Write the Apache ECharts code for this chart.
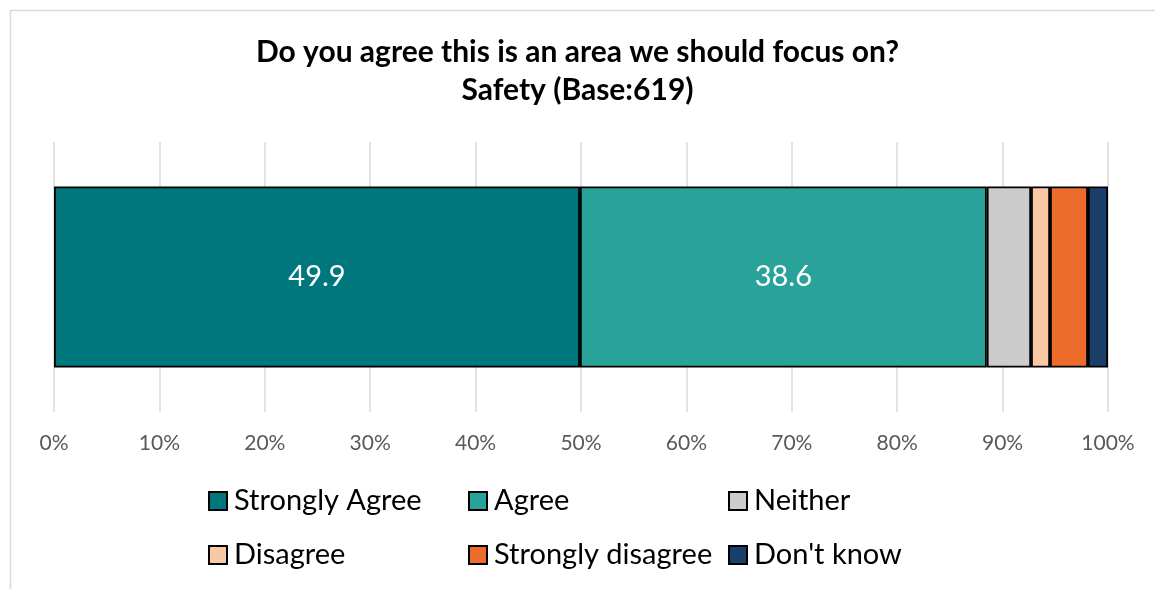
<!DOCTYPE html>
<html>
<head>
<meta charset="utf-8">
<script src="https://cdn.jsdelivr.net/npm/echarts@6/dist/echarts.min.js"></script>
<style>
  html, body { margin: 0; padding: 0; background: #fff; }
  #main { width: 1155px; height: 589px; }
</style>
</head>
<body>
<div id="main"></div>
<script>
// data
var categories = ['Safety'];
var seriesNames = ['Strongly Agree', 'Agree', 'Neither', 'Disagree', 'Strongly disagree', "Don't know"];
var stronglyAgree = [49.9];
var agree = [38.6];
var neither = [4.2];
var disagree = [1.8];
var stronglyDisagree = [3.6];
var dontKnow = [1.9];
var showValue = [true, true, false, false, false, false];
var colors = ['#00777D', '#29A399', '#CCCCCC', '#F9C9A6', '#EC6C2B', '#1B3F6B'];

var font = 'Lato';
var allValues = [stronglyAgree, agree, neither, disagree, stronglyDisagree, dontKnow];

window.onload = function () {
  var myChart = echarts.init(document.getElementById('main'));

  var series = seriesNames.map(function (name, i) {
    return {
      name: name,
      type: 'bar',
      stack: 'total',
      data: allValues[i],
      barWidth: 181,
      itemStyle: {
        color: colors[i],
        borderColor: '#000',
        borderWidth: 1.8
      },
      label: {
        show: showValue[i],
        position: 'inside',
        color: '#fff',
        fontSize: 29,
        fontFamily: font,
        formatter: function (p) { return p.value.toFixed(1); }
      }
    };
  });

  // one legend per item, laid out in a 3x2 grid like the original
  var colLeft = [208, 468, 728];
  var rowTop = [486, 540];
  var legends = seriesNames.map(function (name, i) {
    return {
      data: [name],
      left: colLeft[i % 3],
      top: rowTop[Math.floor(i / 3)],
      padding: 0,
      itemWidth: 18,
      itemHeight: 18,
      icon: 'rect',
      textStyle: { fontSize: 29, fontFamily: font, color: '#000', lineHeight: 30, padding: [0, 0, 0, 2] }
    };
  });

  var option = {
    animation: false,
    title: {
      text: 'Do you agree this is an area we should focus on?\nSafety (Base:619)',
      left: 'center',
      top: 28,
      textStyle: { fontSize: 30, fontWeight: 'bold', fontFamily: font, color: '#000', lineHeight: 38 }
    },
    legend: legends,
    grid: { left: 54, right: 47, top: 142, bottom: 177 },
    xAxis: {
      type: 'value',
      min: 0,
      max: 100,
      interval: 10,
      axisLine: { show: false },
      axisTick: { show: false },
      splitLine: { lineStyle: { color: '#D9D9D9', width: 1.5 } },
      axisLabel: {
        margin: 21,
        fontSize: 21,
        fontFamily: font,
        color: '#595959',
        formatter: '{value}%'
      }
    },
    yAxis: {
      type: 'category',
      data: categories,
      show: false
    },
    graphic: [{
      type: 'polyline',
      shape: { points: [[10.5, 600], [10.5, 10.5], [1160, 10.5]] },
      style: { stroke: '#D9D9D9', lineWidth: 1.5, fill: null }
    }],
    series: series
  };

  myChart.setOption(option);
};
</script>
</body>
</html>
